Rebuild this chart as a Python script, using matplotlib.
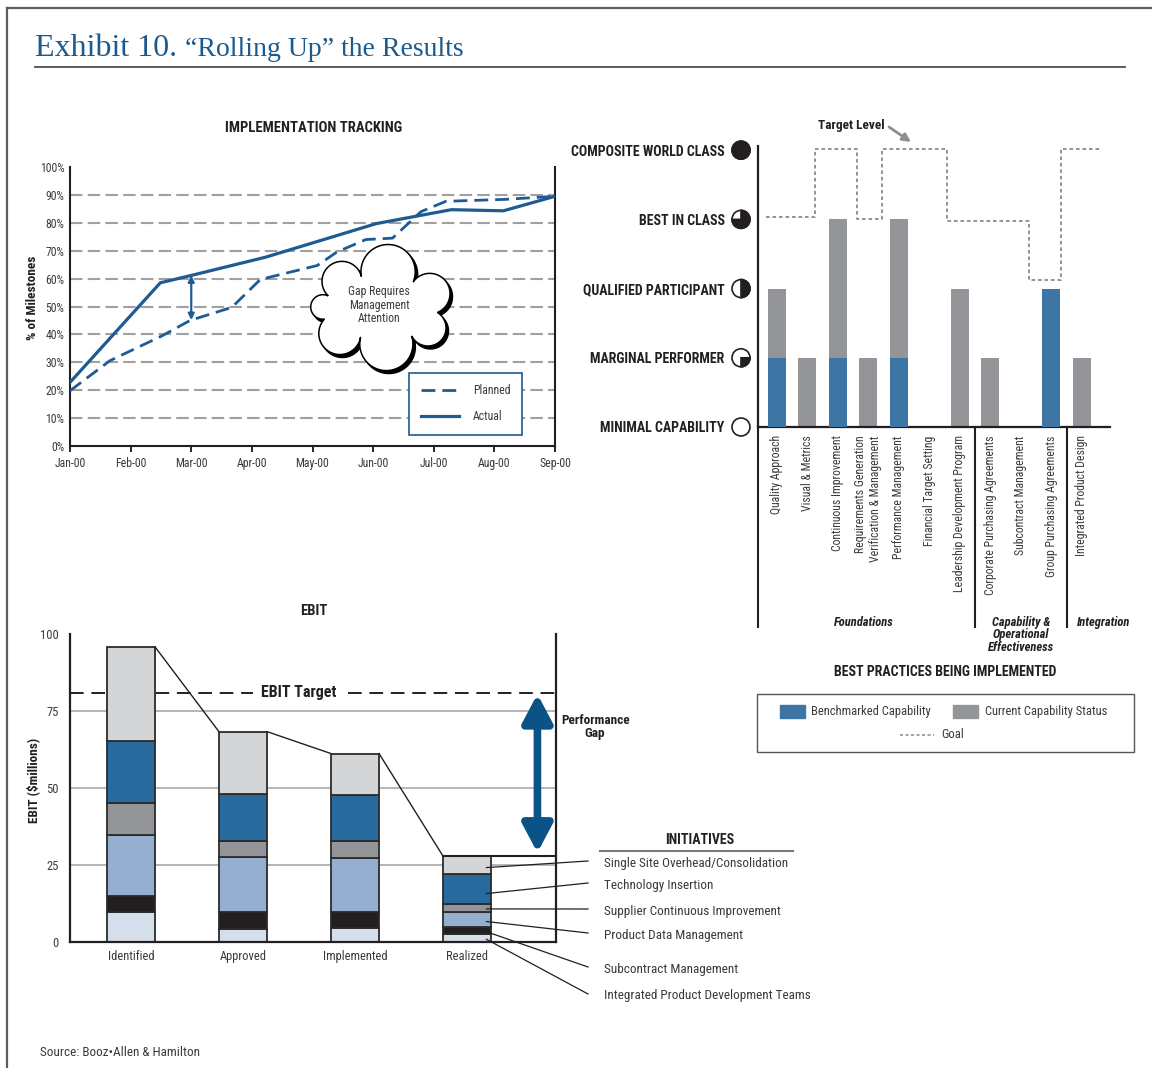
import numpy as np
import matplotlib
matplotlib.use('Agg')
import matplotlib.pyplot as plt
import matplotlib.transforms as mtransforms
from matplotlib import font_manager
from matplotlib.patches import Rectangle, Wedge, Circle, PathPatch
from matplotlib.path import Path

# ---------------- data ----------------
months = ['Jan-00', 'Feb-00', 'Mar-00', 'Apr-00', 'May-00', 'Jun-00', 'Jul-00', 'Aug-00', 'Sep-00']
planned_x = [0, 0.66, 1.52, 1.98, 2.67, 3.14, 4.08, 4.4, 4.88, 5.32, 5.79, 6.2, 7.18, 8]
planned_y = [19.8, 30.6, 39.5, 45.0, 49.7, 59.7, 64.7, 69.5, 74.0, 74.5, 84.0, 87.7, 88.4, 89.5]
actual_x = [0, 1.49, 2.05, 3.23, 5.05, 6.29, 7.15, 8]
actual_y = [22.8, 58.5, 61.4, 67.7, 79.7, 84.7, 84.3, 89.5]
gap_month = 2.0

levels = ['MINIMAL CAPABILITY', 'MARGINAL PERFORMER', 'QUALIFIED PARTICIPANT',
          'BEST IN CLASS', 'COMPOSITE WORLD CLASS']
practices = ['Quality Approach', 'Visual & Metrics', 'Continuous Improvement',
             'Requirements Generation\nVerification & Management', 'Performance Management',
             'Financial Target Setting', 'Leadership Development Program',
             'Corporate Purchasing Agreements', 'Subcontract Management',
             'Group Purchasing Agreements', 'Integrated Product Design']
current = [2, 1, 3, 1, 3, 0, 2, 1, 0, 2, 1]
benchmarked = [1, 0, 1, 0, 1, 0, 0, 0, 0, 2, 0]
goal_edges = [-0.36, 1.25, 2.63, 3.43, 5.56, 8.28, 9.32, 10.63]
goal_levels = [3.03, 4.02, 3.0, 4.02, 2.97, 2.12, 4.02]
groups = ['Foundations', 'Capability &\nOperational\nEffectiveness', 'Integration']
group_x = [2.85, 8.0, 10.72]
group_bounds = [6.5, 9.5]

stages = ['Identified', 'Approved', 'Implemented', 'Realized']
initiatives = ['Integrated Product Development Teams', 'Subcontract Management',
               'Product Data Management', 'Supplier Continuous Improvement',
               'Technology Insertion', 'Single Site Overhead/Consolidation']  # bottom -> top
ipdt = [9.6, 4.3, 4.6, 2.5]
subcontract = [5.2, 5.5, 5.2, 2.4]
pdm = [19.8, 17.7, 17.5, 5.0]
supplier = [10.5, 5.4, 5.4, 2.4]
tech = [20.2, 15.3, 15.1, 9.8]
single = [30.5, 20.1, 13.4, 5.9]
ebit_target = 81

# ---------------- style ----------------
names = {f.name for f in font_manager.fontManager.ttflist}
def pick(*cands):
    for c in cands:
        if c in names:
            return c
    return 'DejaVu Sans'
NARROW = pick('Liberation Sans Narrow', 'Roboto Condensed', 'Open Sans Condensed', 'Liberation Sans')
SERIF = pick('Liberation Serif', 'DejaVu Serif')
plt.rcParams['font.family'] = [NARROW, 'DejaVu Sans']

LINEBLUE = '#1f5b93'
BARBLUE = '#3d76a5'
BARGRAY = '#939598'
DARK = '#231f20'
TXT = '#3a3a3a'
stack_colors = ['#d5dfec', '#231f20', '#94afcf', '#939598', '#286a9d', '#d4d5d7']
label_y = [996, 969, 935, 911, 885, 863]  # bottom -> top initiative labels (px)

W, H = 1152, 1068
fig = plt.figure(figsize=(W / 100, H / 100), dpi=100)

def px_axes(l, t, r, b):
    return fig.add_axes([l / W, 1 - b / H, (r - l) / W, (b - t) / H])

# ---------------- implementation tracking ----------------
ax1 = px_axes(70, 167, 555, 446)
ax1.set_xlim(0, 8)
ax1.set_ylim(0, 100)
for v in range(10, 100, 10):
    ax1.axhline(v, color='#a0a0a0', lw=1.5, ls=(0, (6, 2.5)), zorder=1)
ax1.plot(planned_x, planned_y, color=LINEBLUE, lw=2, ls=(0, (5, 2.5)), label='Planned', zorder=3)
ax1.plot(actual_x, actual_y, color=LINEBLUE, lw=2.3, label='Actual', zorder=3)
y_top = np.interp(gap_month, actual_x, actual_y)
y_bot = np.interp(gap_month, planned_x, planned_y)
ax1.annotate('', xy=(gap_month, y_bot), xytext=(gap_month, y_top),
             arrowprops=dict(arrowstyle='<|-|>', color=LINEBLUE, lw=1.6,
                             mutation_scale=9, shrinkA=0, shrinkB=0))
ax1.set_xticks(range(len(months)), months)
ax1.set_yticks(range(0, 101, 10), [f'{v}%' for v in range(0, 101, 10)])
ax1.tick_params(axis='y', length=0, pad=4, labelsize=8.5, labelcolor=TXT)
ax1.tick_params(axis='x', length=4, width=1.2, pad=4, labelsize=8.5, labelcolor=TXT)
ax1.spines['top'].set_visible(False)
for s in ('left', 'right', 'bottom'):
    ax1.spines[s].set_linewidth(1.5)
    ax1.spines[s].set_color(DARK)
leg = ax1.legend(loc='lower left', bbox_to_anchor=(0.699, 0.039), borderaxespad=0,
                 fancybox=False, framealpha=1, edgecolor=LINEBLUE, handlelength=3.2,
                 handletextpad=1.2, labelspacing=1.1, borderpad=1.0, fontsize=8.5)
leg.get_frame().set_linewidth(1.2)
for t in leg.get_texts():
    t.set_color(TXT)

# ---------------- capability chart ----------------
ax2 = px_axes(758, 146, 1110, 427)
ax2.set_xlim(-0.62, 10.92)
ax2.set_ylim(0, 4.06)
xp = np.arange(len(practices))
ax2.bar(xp, current, width=0.59, color=BARGRAY, zorder=2)
ax2.bar(xp, benchmarked, width=0.59, color=BARBLUE, zorder=3)
gx = np.repeat(goal_edges, 2)[1:-1]
gy = np.repeat(goal_levels, 2)
ax2.plot(gx, gy, color='#8a8a8a', lw=1.3, ls=(0, (2, 1.6)), clip_on=False, zorder=4)
ax2.set_xticks(xp, practices, rotation=90, fontsize=8.5, color=TXT)
for lab in ax2.get_xticklabels():
    lab.set_multialignment('right')
ax2.set_yticks(range(len(levels)), levels, fontsize=10, fontweight='bold', color=DARK)
ax2.tick_params(axis='x', length=0, pad=6)
ax2.tick_params(axis='y', length=0, pad=24)
for s in ('top', 'right'):
    ax2.spines[s].set_visible(False)
for s in ('left', 'bottom'):
    ax2.spines[s].set_linewidth(1.6)
    ax2.spines[s].set_color(DARK)
trans2 = mtransforms.blended_transform_factory(ax2.transData, ax2.transAxes)
for xb in [ax2.get_xlim()[0]] + group_bounds:
    ax2.plot([xb, xb], [0, -0.712], transform=trans2, color=DARK, lw=1.5, clip_on=False)
for gname, gxp in zip(groups, group_x):
    ax2.text(gxp, -0.672, gname, transform=trans2, ha='center', va='top', fontsize=9,
             fontweight='bold', fontstyle='italic', color=DARK, linespacing=0.95)

# ---------------- EBIT chart ----------------
ax3 = px_axes(70, 634, 556, 942)
ax3.set_xlim(-0.545, 3.796)
ax3.set_ylim(0, 100)
for v in (25, 50, 75):
    ax3.axhline(v, color='#b5b5b5', lw=1.4, zorder=0)
xs = np.arange(len(stages))
bw = 0.43
bottom = np.zeros(len(stages))
for vals, col in zip([ipdt, subcontract, pdm, supplier, tech, single], stack_colors):
    ax3.bar(xs, vals, bottom=bottom, width=bw, color=col, edgecolor='#2b2b2b', lw=1.3, zorder=2)
    bottom = bottom + np.array(vals)
totals = bottom
for i in range(len(stages) - 1):
    ax3.plot([xs[i] + bw / 2, xs[i + 1] - bw / 2], [totals[i], totals[i + 1]],
             color=DARK, lw=1, zorder=3)
ax3.plot([xs[-1] - bw / 2, ax3.get_xlim()[1]], [totals[-1], totals[-1]], color=DARK, lw=1.5,
         zorder=3, clip_on=False)
ax3.axhline(ebit_target, color=DARK, lw=1.4, ls=(0, (7, 4)), zorder=1)
ax3.text(1.5, ebit_target, 'EBIT Target', ha='center', va='center', fontsize=11.5,
         fontweight='bold', color=DARK, zorder=4,
         bbox=dict(facecolor='white', edgecolor='none', pad=6))
gap_x = 3.63
ax3.annotate('', xy=(gap_x, ebit_target - 0.5), xytext=(gap_x, totals[-1] + 1),
             arrowprops=dict(arrowstyle='<|-|>,head_length=0.85,head_width=0.45',
                             color='#0b5286', lw=5.5, mutation_scale=20, shrinkA=0, shrinkB=0),
             zorder=5)
ax3.text(4.145, 69.8, 'Performance\nGap', ha='center', va='center', fontsize=9.5,
         fontweight='bold', color=DARK, linespacing=0.95, clip_on=False)
ax3.set_xticks(xs, stages)
ax3.set_yticks([0, 25, 50, 75, 100])
ax3.tick_params(axis='x', length=0, pad=6, labelsize=9, labelcolor=TXT)
ax3.tick_params(axis='y', length=0, pad=8, labelsize=9, labelcolor=TXT)
ax3.spines['top'].set_visible(False)
for s in ('left', 'right', 'bottom'):
    ax3.spines[s].set_linewidth(1.6)
    ax3.spines[s].set_color(DARK)

# ---------------- overlay (pixel coords) ----------------
ov = fig.add_axes([0, 0, 1, 1])
ov.set_xlim(0, W)
ov.set_ylim(H, 0)
ov.axis('off')

def to_ov(ax, x, y):
    return ov.transData.inverted().transform(ax.transData.transform((x, y)))

# frame and title
ov.plot([7, 7], [8, H], color='#5c5c5c', lw=1.6)
ov.plot([7, W], [8, 8], color='#5c5c5c', lw=1.6)
ov.plot([35, 1125], [67, 67], color='#5c5c5c', lw=1.4)
t1 = ov.text(35, 56, 'Exhibit 10.', family=[SERIF], fontsize=23, color='#1b5a8e', va='baseline')
fig.canvas.draw()
bb = t1.get_window_extent(fig.canvas.get_renderer())
ov.text(bb.x1 + 8, 56, '\u201cRolling Up\u201d the Results', family=[SERIF], fontsize=20,
        color='#1b5a8e', va='baseline')

# section titles
ov.text(314, 128, 'IMPLEMENTATION TRACKING', ha='center', va='center', fontsize=10.5,
        fontweight='bold', color=DARK)
ov.text(314, 611, 'EBIT', ha='center', va='center', fontsize=10.5, fontweight='bold', color=DARK)
ov.text(33, 298, '% of Milestones', rotation=90, ha='center', va='center', fontsize=9.5,
        fontweight='bold', color=DARK)
ov.text(33, 780, 'EBIT ($millions)', rotation=90, ha='center', va='center', fontsize=9.5,
        fontweight='bold', color=DARK)
ov.text(945, 672, 'BEST PRACTICES BEING IMPLEMENTED', ha='center', va='center', fontsize=10,
        fontweight='bold', color=DARK)
ov.text(851, 126, 'Target Level', ha='center', va='center', fontsize=9.5, fontweight='bold',
        color=DARK)
ov.annotate('', xy=(911, 142), xytext=(889, 127),
            arrowprops=dict(arrowstyle='-|>', color='#8f8f8f', lw=2, mutation_scale=12,
                            shrinkA=0, shrinkB=0))
ov.text(40, 1053, 'Source: Booz\u2022Allen & Hamilton', ha='left', va='center', fontsize=9.5,
        color=TXT)

# cloud
def cloud_verts(cx, cy, rx, ry, angles, scales, k=0.52):
    a = np.radians(angles)
    pts = np.column_stack([cx + rx * np.array(scales) * np.cos(a),
                           cy + ry * np.array(scales) * np.sin(a)])
    pts = np.vstack([pts, pts[:1]])
    out = []
    for p0, p1 in zip(pts[:-1], pts[1:]):
        mid = (p0 + p1) / 2
        d = p1 - p0
        L = np.hypot(*d)
        n = np.array([d[1], -d[0]]) / L
        if np.dot(n, mid - [cx, cy]) < 0:
            n = -n
        r = k * L
        c = mid + n * np.sqrt(r ** 2 - (L / 2) ** 2)
        a0 = np.arctan2(*(p0 - c)[::-1])
        a1 = np.arctan2(*(p1 - c)[::-1])
        best = None
        for sgn in (1, -1):
            span = (a1 - a0) % (2 * np.pi) if sgn > 0 else -((a0 - a1) % (2 * np.pi))
            th = a0 + np.linspace(0, span, 40)
            arc = np.column_stack([c[0] + r * np.cos(th), c[1] + r * np.sin(th)])
            dist = np.hypot(*(arc[20] - [cx, cy]))
            if best is None or dist > best[0]:
                best = (dist, arc)
        out.append(best[1])
    return np.vstack(out)

cv = cloud_verts(380, 308, 58, 32,
                 [8, 58, 110, 160, 203, 252, 305],
                 [1.0, 1.03, 0.98, 1.02, 0.97, 1.04, 1.0])
ov.add_patch(PathPatch(Path(cv + [2.5, 3]), facecolor='black', edgecolor='black', lw=1))
ov.add_patch(PathPatch(Path(cv), facecolor='white', edgecolor='black', lw=1.1))
ov.text(379, 305, 'Gap Requires\nManagement\nAttention', ha='center', va='center', fontsize=8.5,
        color=TXT, linespacing=1.0)

# Harvey balls for levels
for k in range(len(levels)):
    cx, cy = 741, to_ov(ax2, 0, k)[1]
    rr = 9
    ov.add_patch(Circle((cx, cy), rr, facecolor='white', edgecolor=DARK, lw=1.2))
    wedges = {1: (0, 90), 2: (-90, 90), 3: (-90, 180), 4: (0, 360)}
    if k in wedges:
        ov.add_patch(Wedge((cx, cy), rr, *wedges[k], facecolor=DARK, edgecolor=DARK, lw=1.2))

# capability legend
ov.add_patch(Rectangle((757, 694), 377, 58, fill=False, edgecolor='#555555', lw=1))
ov.add_patch(Rectangle((780, 705), 25, 13, color=BARBLUE))
ov.text(811, 712, 'Benchmarked Capability', va='center', fontsize=9, color=TXT)
ov.add_patch(Rectangle((953, 705), 25, 13, color=BARGRAY))
ov.text(985, 712, 'Current Capability Status', va='center', fontsize=9, color=TXT)
ov.plot([900, 934], [735, 735], color='#8a8a8a', lw=1.1, ls=(0, (2, 1.6)))
ov.text(941, 735, 'Goal', va='center', fontsize=9, color=TXT)

# initiatives legend with leader lines
ov.text(700, 840, 'INITIATIVES', ha='center', va='center', fontsize=10, fontweight='bold',
        color=DARK)
ov.plot([600, 793], [851, 851], color='#7a7a7a', lw=1.5)
cum = 0.0
for name, vals, ly in zip(initiatives, [ipdt, subcontract, pdm, supplier, tech, single], label_y):
    seg = vals[-1]
    sx, sy = to_ov(ax3, xs[-1] + bw / 2 - 0.04, cum + 0.35 * seg)
    ov.plot([sx, 588], [sy, ly - 2], color=DARK, lw=0.9)
    ov.text(604, ly, name, va='center', fontsize=9.5, color=TXT)
    cum += seg

fig.savefig('out.png', dpi=100)
